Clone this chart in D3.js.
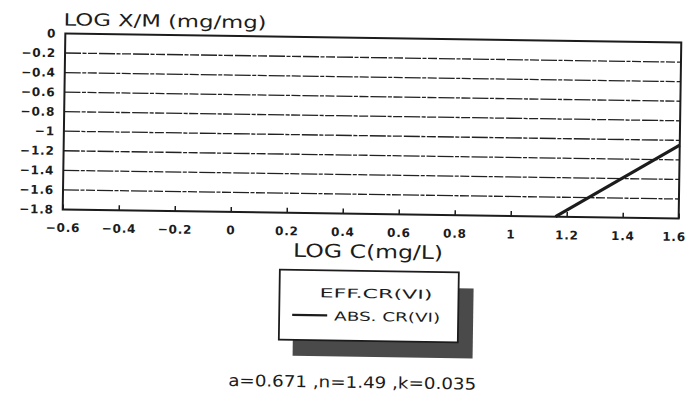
<!DOCTYPE html>
<html>
<head>
<meta charset="utf-8">
<script src="https://cdn.jsdelivr.net/npm/d3@7"></script>
<style>
  body { margin: 0; background: #fff; }
  text { fill: #1c1c1c; font-family: "DejaVu Sans", sans-serif; }
  .tick-label { font-size: 12px; font-weight: bold; letter-spacing: 0.8px; }
</style>
</head>
<body>
<div id="chart"></div>
<script>
// values
const xTicks = [-0.6, -0.4, -0.2, 0, 0.2, 0.4, 0.6, 0.8, 1, 1.2, 1.4, 1.6];
const yTicks = [0, -0.2, -0.4, -0.6, -0.8, -1, -1.2, -1.4, -1.6, -1.8];
const absLogC = [1.16, 1.6];
const absLogXM = [-1.8, -1.05];
const legendNames = ["EFF.CR(VI)", "ABS. CR(VI)"];
const paramText = "a=0.671 ,n=1.49 ,k=0.035";

const W = 687, H = 411;
var margin = {top: 38, right: 7, bottom: 197, left: 64},
    width = W - margin.left - margin.right,
    height = H - margin.top - margin.bottom;

const svg = d3.select("#chart")
  .append("svg")
    .attr("width", W)
    .attr("height", H);

// the scan is slightly tilted
const root = svg.append("g")
  .attr("transform", "rotate(0.85, 372, 126)");

const g = root.append("g")
  .attr("transform", `translate(${margin.left}, ${margin.top})`);

var x = d3.scaleLinear().domain([-0.6, 1.6]).range([0, width]);
var y = d3.scaleLinear().domain([-1.8, 0]).range([height, 0]);

// grid lines
g.selectAll(".grid")
  .data(yTicks.filter(d => d != 0 && d != -1.8))
  .enter()
  .append("line")
    .attr("x1", 0).attr("x2", width)
    .attr("y1", d => y(d)).attr("y2", d => y(d))
    .attr("stroke", "#222")
    .attr("stroke-width", 1.3)
    .attr("stroke-dasharray", "16,1.5,4,1.5,9,2");

const fmt = d => d3.format("")(+d.toFixed(1)).replace("-", "\u2212");

// x axis: ticks point into the plot
var xAxis = d3.axisBottom(x)
  .tickValues(xTicks)
  .tickSizeInner(-5)
  .tickSizeOuter(0)
  .tickPadding(14)
  .tickFormat(fmt);
var xAxisG = g.append("g")
  .attr("transform", `translate(0, ${height})`)
  .call(xAxis);
xAxisG.select(".domain").remove();
xAxisG.selectAll("line").attr("stroke", "#1c1c1c").attr("stroke-width", 1.5);
xAxisG.selectAll("text").attr("class", "tick-label").attr("fill", null);
// last label sits right at the page edge
xAxisG.selectAll("text").filter(d => d == 1.6)
  .attr("text-anchor", "end").attr("dx", 7);

var yAxis = d3.axisLeft(y)
  .tickValues(yTicks)
  .tickSize(0)
  .tickPadding(9)
  .tickFormat(fmt);
var yAxisG = g.append("g").call(yAxis);
yAxisG.select(".domain").remove();
yAxisG.selectAll("text").attr("class", "tick-label").attr("fill", null);
xAxisG.attr("font-family", null).attr("font-size", null);
yAxisG.attr("font-family", null).attr("font-size", null);

// frame
g.append("rect")
  .attr("width", width)
  .attr("height", height)
  .attr("fill", "none")
  .attr("stroke", "#1c1c1c")
  .attr("stroke-width", 2);

// isotherm line
var line = d3.line()
  .x((d, i) => x(absLogC[i]))
  .y(d => y(d));
g.append("path")
  .datum(absLogXM)
  .attr("d", line)
  .attr("fill", "none")
  .attr("stroke", "#1c1c1c")
  .attr("stroke-width", 3.2);

// titles
root.append("text")
  .attr("x", 62).attr("y", 30)
  .attr("font-size", 17)
  .attr("textLength", 203)
  .attr("lengthAdjust", "spacingAndGlyphs")
  .text("LOG X/M (mg/mg)");

root.append("text")
  .attr("x", 295).attr("y", 258)
  .attr("font-size", 18.5)
  .attr("textLength", 150)
  .attr("lengthAdjust", "spacingAndGlyphs")
  .text("LOG C(mg/L)");

// legend with drop shadow
const lg = root.append("g");
lg.append("rect")
  .attr("x", 296).attr("y", 287)
  .attr("width", 180).attr("height", 70)
  .attr("fill", "#4a4a4a");
lg.append("rect")
  .attr("x", 282).attr("y", 271)
  .attr("width", 179).attr("height", 70)
  .attr("fill", "#fff")
  .attr("stroke", "#1c1c1c")
  .attr("stroke-width", 1.8);
lg.append("text")
  .attr("x", 322).attr("y", 298)
  .attr("font-size", 12.5)
  .attr("textLength", 113)
  .attr("lengthAdjust", "spacingAndGlyphs")
  .text(legendNames[0]);
lg.append("line")
  .attr("x1", 295).attr("x2", 330)
  .attr("y1", 316).attr("y2", 316)
  .attr("stroke", "#1c1c1c")
  .attr("stroke-width", 2.2);
lg.append("text")
  .attr("x", 337).attr("y", 321)
  .attr("font-size", 12.5)
  .attr("textLength", 106)
  .attr("lengthAdjust", "spacingAndGlyphs")
  .text(legendNames[1]);

root.append("text")
  .attr("x", 232).attr("y", 388)
  .attr("font-size", 16)
  .attr("textLength", 248)
  .attr("lengthAdjust", "spacingAndGlyphs")
  .text(paramText);
</script>
</body>
</html>
